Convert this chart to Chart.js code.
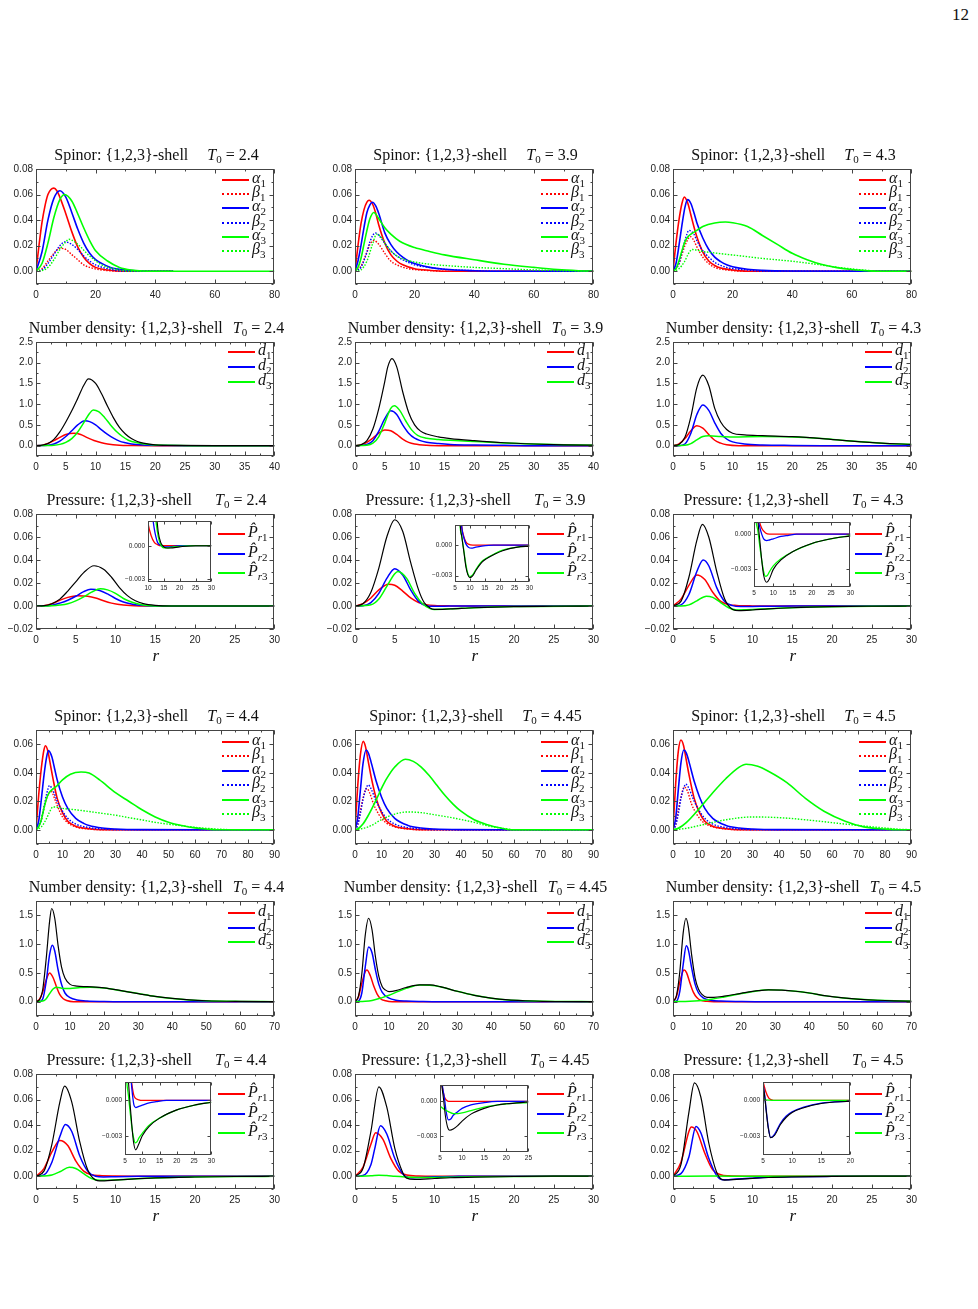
<!DOCTYPE html>
<html>
<head>
<meta charset="utf-8">
<script src="https://cdn.jsdelivr.net/npm/chart.js@4.4.1/dist/chart.umd.min.js"></script>
<style>
  body { margin: 0; background: #fff; width: 978px; height: 1309px; position: relative; overflow: hidden;
         font-family: "Liberation Serif", "DejaVu Serif", serif; color: #111; }
  .title { position: absolute; font-size: 16px; line-height: 16px; text-align: center; white-space: nowrap; }
  .title sub { font-size: 11px; line-height: 0; vertical-align: -3px; }
  .lab sub { font-size: 11px; line-height: 0; vertical-align: -4px; }
  .eq { margin: 0 4px; }
  .lab { position: absolute; font-size: 16px; line-height: 16px; white-space: nowrap; }
  .smp { position: absolute; height: 0; width: 27px; }
  .xlab { position: absolute; font-size: 17px; font-style: italic; line-height: 16px; }
</style>
</head>
<body>
<div style="position:absolute;left:952px;top:5px;font-size:17px;">12</div>
<script>
// ---------- tick labels ----------
const xTicks80 = [0, 20, 40, 60, 80];
const xTicks90 = [0, 10, 20, 30, 40, 50, 60, 70, 80, 90];
const xTicks40 = [0, 5, 10, 15, 20, 25, 30, 35, 40];
const xTicks70 = [0, 10, 20, 30, 40, 50, 60, 70];
const xTicks30 = [0, 5, 10, 15, 20, 25, 30];
const yTicksSpinA = [0, 0.02, 0.04, 0.06, 0.08];
const yTicksSpinB = [0, 0.02, 0.04, 0.06];
const yTicksDenA = [0, 0.5, 1, 1.5, 2, 2.5];
const yTicksDenB = [0, 0.5, 1, 1.5];
const yTicksPrA = [-0.02, 0, 0.02, 0.04, 0.06, 0.08];
const yTicksPrB = [0, 0.02, 0.04, 0.06, 0.08];
const insetYTicks = [-0.003, 0];
const temps = ['2.4', '3.9', '4.3', '4.4', '4.45', '4.5'];

// ---------- spinor, T0 = 2.4 ----------
const sp1_a1 = [[0,0],[1,0.02],[2,0.038],[3,0.051],[4,0.06],[5,0.064],[6,0.065],[7,0.063],[8,0.058],[10,0.045],[12,0.031],[14,0.019],[16,0.011],[18,0.006],[20,0.003],[24,0.001],[30,0],[46,0]];
const sp1_b1 = [[0,0],[2,0.002],[4,0.008],[6,0.014],[8,0.018],[10,0.017],[12,0.013],[14,0.009],[16,0.005],[18,0.003],[22,0.001],[28,0],[46,0]];
const sp1_a2 = [[0,0],[2,0.015],[4,0.04],[6,0.057],[8,0.063],[10,0.058],[12,0.046],[14,0.033],[16,0.022],[18,0.014],[20,0.009],[25,0.003],[30,0.001],[40,0],[46,0]];
const sp1_b2 = [[0,0],[2,0.001],[4,0.006],[6,0.013],[8,0.02],[9.7,0.023],[12,0.021],[14,0.017],[16,0.012],[18,0.008],[20,0.005],[24,0.002],[30,0],[46,0]];
const sp1_a3 = [[0,0],[2,0.006],[4,0.022],[6,0.042],[8,0.056],[9.6,0.06],[12,0.055],[14,0.045],[16,0.034],[18,0.024],[20,0.016],[24,0.008],[28,0.003],[32,0.001],[40,0],[80,0]];
const sp1_b3 = [[0,0],[2,0.0005],[4,0.003],[6,0.009],[8,0.017],[10,0.023],[11,0.025],[13,0.023],[15,0.019],[17,0.014],[19,0.01],[22,0.005],[26,0.002],[32,0],[46,0]];
// ---------- spinor, T0 = 3.9 ----------
const sp2_a1 = [[0,0],[1,0.02],[2,0.037],[3,0.048],[4,0.054],[4.7,0.0555],[6,0.052],[7,0.045],[8,0.036],[10,0.022],[12,0.013],[14,0.008],[16,0.005],[20,0.002],[25,0.0007],[30,0],[80,0]];
const sp2_b1 = [[0,0],[2,0.004],[4,0.015],[5,0.021],[6.4,0.024],[8,0.021],[10,0.014],[12,0.008],[14,0.005],[18,0.002],[25,0.0005],[30,0],[80,0]];
const sp2_a2 = [[0,0],[1,0.008],[2,0.02],[3,0.034],[4,0.046],[5,0.052],[5.8,0.054],[7,0.051],[8,0.045],[10,0.03],[12,0.021],[14,0.015],[16,0.011],[18,0.008],[20,0.006],[25,0.003],[30,0.0015],[40,0.0004],[50,0],[80,0]];
const sp2_b2 = [[0,0],[2,0.003],[4,0.015],[5,0.023],[6.8,0.03],[8,0.028],[10,0.022],[12,0.016],[14,0.012],[16,0.009],[20,0.005],[25,0.003],[30,0.0015],[40,0.0005],[50,0],[80,0]];
const sp2_a3 = [[0,0],[1,0.003],[2,0.01],[3,0.021],[4,0.032],[5,0.041],[6.3,0.046],[8,0.041],[10,0.034],[12,0.029],[15,0.0235],[20,0.0185],[25,0.0155],[30,0.0128],[40,0.009],[50,0.0055],[60,0.003],[68,0.0013],[75,0.0004],[80,0]];
const sp2_b3 = [[0,0],[2,0.001],[4,0.008],[6,0.022],[7.2,0.029],[9,0.026],[10,0.022],[12,0.016],[14,0.012],[16,0.0096],[20,0.0072],[25,0.0055],[30,0.0045],[40,0.003],[50,0.002],[60,0.001],[70,0.0004],[80,0]];
// ---------- spinor, T0 = 4.3 ----------
const sp3_a1 = [[0,0],[1,0.022],[2,0.04],[3,0.053],[3.8,0.058],[5,0.053],[6,0.044],[7,0.035],[8,0.027],[10,0.015],[12,0.008],[14,0.0045],[16,0.0025],[20,0.001],[25,0],[80,0]];
const sp3_b1 = [[0,0],[2,0.006],[3,0.013],[4,0.02],[5,0.025],[5.9,0.027],[7,0.024],[8,0.019],[10,0.011],[12,0.006],[14,0.003],[18,0.001],[25,0],[80,0]];
const sp3_a2 = [[0,0],[1,0.006],[2,0.02],[3,0.036],[4,0.05],[4.9,0.056],[6,0.053],[7,0.046],[8,0.038],[10,0.026],[12,0.017],[14,0.011],[16,0.0075],[18,0.005],[20,0.0035],[25,0.0015],[30,0.0007],[40,0.0002],[67,0],[80,0]];
const sp3_b2 = [[0,0],[2,0.006],[3,0.015],[4,0.024],[5.4,0.032],[7,0.029],[8,0.024],[10,0.016],[12,0.011],[14,0.007],[18,0.003],[25,0.001],[30,0],[80,0]];
const sp3_a3 = [[0,0],[1,0.002],[2,0.008],[3,0.016],[4,0.023],[5,0.027],[6,0.029],[8,0.032],[10,0.035],[14,0.0378],[17.6,0.0385],[20,0.038],[25,0.035],[30,0.028],[35,0.021],[40,0.014],[45,0.009],[50,0.0052],[55,0.0028],[60,0.0013],[65,0.0004],[68,0],[80,0]];
const sp3_b3 = [[0,0],[2,0.002],[4,0.008],[5,0.013],[6.5,0.017],[8,0.0165],[10,0.0155],[15,0.014],[22,0.0122],[30,0.01],[40,0.0078],[50,0.0048],[55,0.0031],[60,0.0018],[66,0.0005],[70,0],[80,0]];
// ---------- spinor, T0 = 4.4 ----------
const sp4_a1 = [[0,0],[1,0.024],[2,0.043],[3,0.056],[3.6,0.059],[4.5,0.055],[5.5,0.045],[6.5,0.035],[8,0.022],[10,0.012],[12,0.006],[15,0.0025],[20,0.0007],[25,0],[90,0]];
const sp4_b1 = [[0,0],[2,0.007],[3,0.015],[4,0.022],[5,0.026],[5.7,0.027],[7,0.022],[8,0.017],[10,0.009],[12,0.005],[15,0.002],[20,0.0005],[25,0],[90,0]];
const sp4_a2 = [[0,0],[1,0.006],[2,0.021],[3,0.038],[4,0.051],[4.7,0.0555],[6,0.051],[7,0.043],[8,0.035],[10,0.023],[12,0.015],[15,0.008],[18,0.0045],[20,0.003],[25,0.0012],[30,0.0005],[40,0.0001],[68,0],[90,0]];
const sp4_b2 = [[0,0],[2,0.007],[3,0.016],[4,0.025],[5.1,0.031],[6,0.029],[7,0.025],[8,0.02],[10,0.013],[12,0.008],[15,0.004],[20,0.0015],[25,0.0005],[30,0],[90,0]];
const sp4_a3 = [[0,0],[1,0.002],[2,0.007],[3,0.015],[4,0.022],[5,0.026],[6,0.028],[8,0.031],[10,0.035],[13,0.039],[17,0.0405],[20,0.0398],[24,0.035],[30,0.026],[35,0.02],[40,0.014],[45,0.009],[50,0.0053],[55,0.003],[60,0.0013],[65,0.0004],[68,0],[90,0]];
const sp4_b3 = [[0,0],[2,0.002],[4,0.008],[5,0.012],[6.4,0.016],[8,0.0158],[10,0.015],[15,0.014],[20,0.0128],[25,0.0115],[30,0.0102],[35,0.0085],[40,0.0069],[45,0.0052],[50,0.0039],[55,0.0028],[60,0.0017],[65,0.0009],[70,0.0003],[75,0],[90,0]];
// ---------- spinor, T0 = 4.45 ----------
const sp5_a1 = [[0,0],[1,0.03],[2,0.052],[3.1,0.062],[4,0.058],[5,0.048],[6,0.038],[8,0.022],[10,0.012],[12,0.006],[15,0.0025],[20,0.0007],[25,0],[90,0]];
const sp5_b1 = [[0,0],[1,0.004],[2,0.013],[3,0.022],[4.4,0.029],[5.5,0.026],[7,0.018],[8,0.014],[10,0.008],[12,0.0045],[15,0.002],[20,0.0005],[25,0],[90,0]];
const sp5_a2 = [[0,0],[1,0.008],[2,0.027],[3,0.046],[4.2,0.056],[5,0.054],[6,0.048],[8,0.034],[10,0.023],[12,0.015],[15,0.008],[20,0.003],[25,0.0012],[30,0.0005],[40,0.0001],[58,0],[90,0]];
const sp5_b2 = [[0,0],[1,0.003],[2,0.011],[3,0.021],[4,0.028],[5,0.0315],[6,0.029],[8,0.02],[10,0.013],[12,0.008],[15,0.004],[20,0.0015],[25,0.0005],[30,0],[90,0]];
const sp5_a3 = [[0,0],[1,0.0005],[3,0.004],[5,0.01],[8,0.021],[10,0.029],[12,0.036],[15,0.044],[19,0.0495],[22,0.048],[25,0.044],[28,0.038],[31,0.031],[34,0.024],[37,0.018],[40,0.013],[45,0.007],[50,0.0035],[55,0.0012],[59,0],[90,0]];
const sp5_b3 = [[0,0],[5,0.002],[10,0.007],[15,0.011],[20,0.0125],[25,0.012],[30,0.0105],[35,0.009],[40,0.0072],[45,0.0052],[50,0.0028],[55,0.0012],[59,0.0002],[60,0],[90,0]];
// ---------- spinor, T0 = 4.5 ----------
const sp6_a1 = [[0,0],[1,0.032],[2,0.055],[3,0.063],[4,0.059],[5,0.049],[6,0.039],[8,0.022],[10,0.012],[12,0.006],[15,0.0025],[20,0.0007],[25,0],[90,0]];
const sp6_b1 = [[0,0],[1,0.004],[2,0.014],[3,0.023],[4.3,0.03],[5.5,0.027],[7,0.018],[8,0.014],[10,0.008],[12,0.0045],[15,0.002],[20,0.0005],[25,0],[90,0]];
const sp6_a2 = [[0,0],[1,0.008],[2,0.028],[3,0.047],[4.1,0.056],[5,0.054],[6,0.048],[8,0.034],[10,0.023],[12,0.015],[15,0.008],[20,0.003],[25,0.0012],[30,0.0005],[40,0.0001],[70,0],[90,0]];
const sp6_b2 = [[0,0],[1,0.003],[2,0.011],[3,0.022],[4,0.029],[4.8,0.032],[6,0.029],[8,0.02],[10,0.013],[12,0.008],[15,0.004],[20,0.0015],[25,0.0005],[30,0],[90,0]];
const sp6_a3 = [[0,0],[2,0.001],[5,0.005],[10,0.015],[15,0.026],[20,0.036],[25,0.044],[27.6,0.046],[32,0.0445],[36,0.041],[43,0.033],[50,0.022],[57,0.013],[65,0.006],[72,0.002],[80,0.0005],[85,0],[90,0]];
const sp6_b3 = [[0,0],[5,0.001],[10,0.003],[20,0.007],[30,0.009],[40,0.0085],[50,0.007],[60,0.005],[70,0.003],[80,0.0012],[85,0.0004],[90,0]];

// ---------- number density ----------
const dn1_t  = [[0,0],[1,0.01],[2,0.05],[3,0.15],[4,0.33],[5,0.57],[6,0.84],[7,1.14],[8,1.45],[8.8,1.61],[10,1.5],[11,1.25],[12,0.95],[13,0.67],[14,0.44],[15,0.28],[16,0.17],[17,0.1],[18,0.06],[20,0.02],[24,0.005],[30,0],[40,0]];
const dn1_d1 = [[0,0],[1,0.01],[2,0.05],[3,0.12],[4,0.2],[5,0.27],[6.4,0.3],[7.5,0.27],[8.5,0.2],[10,0.11],[11,0.07],[12,0.04],[14,0.01],[16,0.003],[20,0],[40,0]];
const dn1_d2 = [[0,0],[2,0.01],[3,0.04],[4,0.11],[5,0.22],[6,0.36],[7,0.5],[8.2,0.6],[9,0.58],[10,0.5],[11,0.38],[12,0.27],[13,0.18],[14,0.11],[15,0.07],[16,0.04],[18,0.015],[22,0.003],[25,0],[40,0]];
const dn1_d3 = [[0,0],[3,0.01],[4,0.03],[5,0.08],[6,0.17],[7,0.33],[8,0.55],[9,0.78],[9.6,0.86],[10.5,0.82],[11.5,0.68],[12.5,0.5],[13.5,0.34],[14.5,0.22],[15.5,0.13],[17,0.07],[19,0.03],[22,0.01],[26,0],[40,0]];
const dn2_t  = [[0,0],[1,0.02],[2,0.12],[3,0.4],[4,0.9],[5,1.55],[5.5,1.9],[6.2,2.1],[7,1.9],[8,1.3],[9,0.8],[10,0.5],[11,0.35],[12,0.28],[14,0.21],[16,0.17],[20,0.12],[25,0.07],[30,0.04],[35,0.02],[40,0.01]];
const dn2_d1 = [[0,0],[1,0.02],[2,0.08],[3,0.18],[4,0.3],[5,0.38],[6,0.36],[7,0.27],[8,0.16],[9,0.08],[10,0.04],[12,0.01],[15,0],[40,0]];
const dn2_d2 = [[0,0],[2,0.03],[3,0.12],[4,0.35],[5,0.65],[6,0.84],[7,0.75],[8,0.5],[9,0.3],[10,0.18],[12,0.08],[14,0.05],[16,0.03],[20,0.015],[25,0.007],[30,0],[40,0]];
const dn2_d3 = [[0,0],[2,0.01],[3,0.06],[4,0.22],[5,0.55],[6,0.9],[6.6,0.96],[7.5,0.85],[8.5,0.6],[9.5,0.38],[10.5,0.25],[12,0.18],[14,0.15],[16,0.13],[20,0.1],[25,0.065],[30,0.04],[35,0.02],[40,0.01]];
const dn3_t  = [[0,0],[1,0.03],[2,0.2],[3,0.7],[4,1.4],[5,1.7],[6,1.45],[7,0.9],[8,0.57],[9,0.39],[10,0.3],[12,0.26],[15,0.24],[20,0.215],[25,0.17],[30,0.11],[35,0.06],[40,0.03]];
const dn3_d1 = [[0,0],[1,0.04],[2,0.17],[3,0.36],[4,0.48],[5,0.42],[6,0.27],[7,0.13],[8,0.06],[9,0.02],[11,0],[40,0]];
const dn3_d2 = [[0,0],[1,0],[2,0.04],[3,0.3],[4,0.75],[5,0.98],[6,0.85],[7,0.55],[8,0.3],[9,0.16],[10,0.09],[12,0.04],[15,0.015],[20,0.005],[25,0],[40,0]];
const dn3_d3 = [[0,0],[2,0.01],[3,0.05],[4,0.14],[5,0.22],[6,0.24],[8,0.22],[10,0.21],[15,0.22],[20,0.21],[25,0.17],[30,0.11],[35,0.06],[40,0.03]];
const dn4_t  = [[0,0],[1,0.03],[2,0.22],[3,0.75],[4,1.4],[4.6,1.62],[5.5,1.45],[6.5,0.97],[7.5,0.6],[8.5,0.41],[10,0.3],[12,0.27],[15,0.26],[20,0.24],[25,0.19],[30,0.14],[35,0.09],[40,0.055],[45,0.03],[50,0.015],[60,0.004],[70,0]];
const dn4_d1 = [[0,0],[1,0.04],[2,0.17],[3,0.38],[4,0.5],[5,0.42],[6,0.26],[7,0.12],[8,0.05],[9,0.02],[11,0],[70,0]];
const dn4_d2 = [[0,0],[1,0],[2,0.05],[3,0.35],[4,0.82],[4.8,0.98],[5.5,0.88],[6.5,0.55],[7.5,0.3],[8.5,0.15],[10,0.07],[12,0.03],[15,0.01],[20,0.003],[25,0],[70,0]];
const dn4_d3 = [[0,0],[2,0.01],[3,0.05],[4,0.14],[5,0.22],[6,0.25],[8,0.23],[10,0.23],[13,0.245],[16,0.25],[20,0.235],[25,0.19],[30,0.14],[35,0.09],[40,0.055],[45,0.03],[50,0.015],[60,0.004],[70,0]];
const dn5_t  = [[0,0],[1,0.09],[2,0.48],[3,1.15],[4,1.45],[5,1.25],[6,0.78],[7,0.44],[8,0.26],[9,0.2],[10,0.175],[12,0.19],[15,0.245],[19,0.29],[22,0.29],[25,0.26],[30,0.18],[35,0.11],[40,0.06],[45,0.03],[50,0.015],[55,0.005],[60,0.002],[70,0]];
const dn5_d1 = [[0,0],[1,0.08],[2,0.32],[3,0.52],[3.5,0.55],[4.5,0.45],[5.5,0.27],[6.5,0.13],[7.5,0.05],[9,0.015],[11,0],[70,0]];
const dn5_d2 = [[0,0],[1,0.01],[2,0.15],[3,0.6],[4,0.95],[5,0.85],[6,0.55],[7,0.3],[8,0.16],[10,0.06],[12,0.025],[15,0.01],[20,0.003],[25,0],[70,0]];
const dn5_d3 = [[0,0],[3,0.005],[5,0.02],[8,0.07],[10,0.11],[12,0.16],[15,0.23],[19,0.29],[22,0.285],[25,0.26],[30,0.18],[35,0.11],[40,0.06],[45,0.03],[50,0.015],[55,0.005],[60,0.002],[70,0]];
const dn6_t  = [[0,0],[1,0.1],[2,0.52],[3,1.2],[3.8,1.45],[4.5,1.3],[5.5,0.8],[6.5,0.41],[7.5,0.215],[8.5,0.125],[10,0.075],[12,0.075],[15,0.095],[20,0.145],[25,0.19],[28,0.205],[32,0.2],[36,0.18],[40,0.15],[45,0.1],[50,0.065],[55,0.04],[60,0.024],[65,0.014],[70,0.008]];
const dn6_d1 = [[0,0],[1,0.09],[2,0.34],[3,0.54],[3.3,0.55],[4,0.5],[5,0.32],[6,0.16],[7,0.07],[8,0.025],[10,0.005],[12,0],[70,0]];
const dn6_d2 = [[0,0],[1,0.01],[2,0.18],[3,0.65],[3.9,0.97],[4.5,0.9],[5.5,0.58],[6.5,0.3],[7.5,0.15],[9,0.06],[11,0.025],[14,0.01],[20,0.003],[25,0],[70,0]];
const dn6_d3 = [[0,0],[5,0.005],[10,0.03],[15,0.08],[20,0.14],[25,0.19],[28,0.205],[32,0.2],[36,0.18],[40,0.15],[45,0.1],[50,0.065],[55,0.04],[60,0.024],[65,0.014],[70,0.008]];

// ---------- pressure ----------
const pr1_t  = [[0,0],[1,0.0003],[2,0.002],[3,0.006],[4,0.013],[5,0.021],[6,0.029],[7.3,0.035],[8.5,0.032],[9.5,0.025],[10.5,0.016],[11.5,0.009],[12.5,0.0045],[13.5,0.002],[15,0.0005],[17,0],[30,0]];
const pr1_p1 = [[0,0],[1,0.0003],[2,0.002],[3,0.005],[4,0.0075],[5.2,0.009],[6.5,0.0085],[7.5,0.007],[8.5,0.0045],[9.5,0.0025],[11,0.0008],[13,0.0001],[15,0],[30,0]];
const pr1_p2 = [[0,0],[2,0.0007],[3,0.0025],[4,0.005],[5,0.0085],[6,0.0125],[6.9,0.0145],[8,0.0135],[9,0.0105],[10,0.0065],[11,0.0035],[12,0.0017],[13,0.0007],[15,0],[30,0]];
const pr1_p3 = [[0,0],[2,0.0002],[3,0.0008],[4,0.002],[5,0.0045],[6,0.008],[7,0.012],[8.1,0.015],[9,0.014],[10,0.011],[11,0.0065],[12,0.0035],[13,0.0015],[14,0.0005],[16,0],[30,0]];
const pr2_t  = [[0,0],[1,0.002],[2,0.012],[3,0.033],[4,0.06],[5,0.075],[6,0.065],[7,0.038],[8,0.014],[8.7,0.003],[9.5,-0.002],[10,-0.003],[12,-0.0025],[15,-0.0015],[20,-0.0005],[25,-0.0002],[30,0]];
const pr2_p1 = [[0,0],[1,0.002],[2,0.007],[3,0.014],[4.2,0.019],[5,0.018],[6,0.013],[7,0.007],[8,0.003],[9,0.0012],[10,0.0005],[12,0.0001],[15,0],[30,0]];
const pr2_p2 = [[0,0],[1,0.0003],[2,0.003],[3,0.011],[4,0.024],[5,0.0325],[6,0.027],[7,0.014],[8,0.004],[9,0.0002],[10,-0.0003],[12,-0.0001],[15,0],[30,0]];
const pr2_p3 = [[0,0],[2,0.001],[3,0.006],[4,0.017],[5,0.028],[5.4,0.03],[6.5,0.024],[7.5,0.011],[8.5,0.002],[9.5,-0.0025],[10,-0.003],[12,-0.0025],[15,-0.0015],[20,-0.0005],[30,0]];
const pr3_t  = [[0,0],[1,0.004],[2,0.025],[3,0.057],[3.7,0.071],[4.5,0.06],[5.5,0.03],[6.5,0.006],[7.5,-0.003],[8.3,-0.004],[10,-0.0035],[12,-0.0025],[15,-0.0015],[20,-0.0006],[25,-0.0002],[30,0]];
const pr3_p1 = [[0,0],[1,0.006],[2,0.018],[3,0.027],[4,0.023],[5,0.012],[6,0.004],[7,0.0012],[8,0.0005],[10,0.0001],[12,0],[30,0]];
const pr3_p2 = [[0,0],[1,0.001],[2,0.01],[3,0.03],[3.8,0.04],[4.5,0.035],[5.5,0.016],[6.5,0.004],[7.5,0.0003],[8.5,-0.0005],[10,-0.0004],[12,-0.0002],[15,0],[30,0]];
const pr3_p3 = [[0,0],[1,0],[2,0.001],[3,0.0045],[4.2,0.0085],[5,0.0075],[6,0.003],[7,-0.0015],[8,-0.0034],[9,-0.0033],[11,-0.0027],[14,-0.0017],[18,-0.0009],[22,-0.0004],[26,-0.0002],[30,-0.0001]];
const pr4_t  = [[0,0],[1,0.004],[2,0.025],[3,0.058],[3.6,0.0705],[4.5,0.058],[5.5,0.027],[6.5,0.005],[7.5,-0.003],[8,-0.0036],[10,-0.003],[12,-0.0022],[15,-0.0013],[20,-0.0006],[25,-0.0002],[30,0]];
const pr4_p1 = [[0,0],[1,0.006],[2,0.019],[3,0.028],[4,0.024],[5,0.012],[6,0.004],[7,0.0012],[8,0.0005],[10,0.0001],[12,0],[30,0]];
const pr4_p2 = [[0,0],[1,0.001],[2,0.011],[3,0.031],[3.7,0.0405],[4.5,0.035],[5.5,0.016],[6.5,0.004],[7.5,0],[8.5,-0.0006],[10,-0.0004],[13,-0.0001],[15,0],[30,0]];
const pr4_p3 = [[0,0],[2,0.001],[3,0.0035],[4.2,0.007],[5,0.006],[6,0.002],[7,-0.0018],[8,-0.0032],[9,-0.0031],[11,-0.0025],[14,-0.0016],[18,-0.0008],[22,-0.0004],[26,-0.0002],[30,-0.0001]];
const pr5_t  = [[0,0],[1,0.006],[2,0.035],[3,0.07],[4,0.054],[5,0.022],[6,0.003],[6.5,-0.0015],[7.5,-0.0025],[10,-0.0018],[12,-0.0012],[15,-0.0007],[20,-0.0002],[25,0],[30,0]];
const pr5_p1 = [[0,0],[1,0.007],[2,0.025],[2.6,0.034],[3.5,0.029],[4.5,0.014],[5.5,0.004],[6.5,0.001],[8,0.0002],[10,0],[30,0]];
const pr5_p2 = [[0,0],[1,0.0005],[2,0.009],[2.5,0.022],[3.2,0.0395],[4,0.033],[5,0.014],[6,0.002],[7,-0.0012],[8,-0.001],[10,-0.0004],[13,-0.0001],[15,0],[30,0]];
const pr5_p3 = [[0,0],[2,0.0003],[3,0.0008],[4,0.0005],[5,0],[6,-0.0004],[7,-0.0008],[9,-0.001],[12,-0.0008],[15,-0.0005],[20,-0.0002],[25,0],[30,0]];
const pr6_t  = [[0,0],[1,0.009],[2,0.05],[2.7,0.073],[3.5,0.062],[4.5,0.026],[5.5,0.003],[6,-0.002],[6.5,-0.003],[8,-0.0025],[10,-0.0017],[12,-0.001],[15,-0.0005],[20,-0.0001],[25,0],[30,0]];
const pr6_p1 = [[0,0],[1,0.011],[2,0.035],[2.3,0.0385],[3,0.035],[4,0.018],[5,0.005],[6,0.0012],[7,0.0003],[9,0],[30,0]];
const pr6_p2 = [[0,0],[1,0.002],[2,0.015],[2.9,0.039],[3.5,0.034],[4.5,0.014],[5.5,0.0005],[6.3,-0.0028],[7,-0.0027],[8,-0.0022],[10,-0.0015],[12,-0.0009],[15,-0.0004],[20,-0.0001],[25,0],[30,0]];
const pr6_p3 = [[0,0],[5,0.0001],[10,0],[30,0]];

// ---------- pressure insets ----------
const in1_t  = [[11,0.012],[12,0.006],[12.8,0.0025],[13.2,0.0013],[14,0.0003],[15,-0.0001],[16,-0.0002],[17,-0.0002],[20,-0.0001],[25,0],[30,0]];
const in1_p1 = [[9,0.004],[10,0.002],[11,0.0009],[12,0.0003],[13,0.0001],[14,0],[30,0]];
const in1_p2 = [[10,0.008],[11,0.004],[11.5,0.0025],[12,0.0015],[12.5,0.0008],[13,0.0003],[14,0.00003],[15,-0.0001],[16,-0.0001],[20,0],[30,0]];
const in1_p3 = [[11,0.008],[12,0.004],[12.4,0.0025],[13,0.0012],[13.5,0.0005],[14,0.0001],[15,-0.0002],[16,-0.0002],[18,-0.0001],[20,-0.00005],[25,0],[30,0]];
const in2_t  = [[6,0.008],[6.7,0.0022],[7.3,0.0008],[8,-0.0007],[8.7,-0.0022],[9.3,-0.0029],[10,-0.0032],[11,-0.003],[12,-0.0025],[14,-0.0017],[15.5,-0.00135],[18,-0.00095],[21,-0.00055],[26,-0.0002],[30,-0.0001]];
const in2_p1 = [[6.5,0.005],[7.2,0.002],[8,0.0008],[8.7,0.0003],[9.5,0.0001],[11,0],[30,0]];
const in2_p2 = [[6.5,0.006],[7.2,0.002],[8,0.0007],[8.7,0.0001],[9.5,-0.0002],[10.5,-0.0003],[12,-0.0002],[14,-0.0001],[18,0],[30,0]];
const in2_p3 = [[6,0.008],[6.7,0.002],[7.3,0.0008],[8,-0.0006],[8.7,-0.002],[9.3,-0.0028],[10,-0.0031],[11,-0.0029],[12,-0.0024],[14,-0.0016],[15.5,-0.0013],[18,-0.0009],[21,-0.0005],[26,-0.0002],[30,-0.0001]];
const in3_t  = [[5.5,0.004],[6,0.0012],[6.5,-0.0005],[7,-0.0022],[7.5,-0.0035],[8.3,-0.0041],[9,-0.0038],[10,-0.003],[12,-0.0022],[15,-0.0015],[20,-0.0008],[25,-0.0004],[30,-0.00015]];
const in3_p1 = [[5.5,0.004],[6,0.002],[6.4,0.0011],[7,0.0005],[8,0.0001],[9,0],[30,0]];
const in3_p2 = [[5.5,0.004],[6,0.0015],[6.5,0.0006],[7,0],[7.5,-0.0004],[8.3,-0.00055],[9,-0.0005],[10,-0.0004],[12,-0.0002],[14,-0.0001],[16,0],[30,0]];
const in3_p3 = [[5,0.004],[5.5,0.0012],[6,0.0003],[6.5,-0.001],[7,-0.0022],[7.5,-0.0032],[8,-0.0036],[8.5,-0.0035],[9,-0.0032],[10,-0.0027],[12,-0.0021],[15,-0.0015],[20,-0.0008],[25,-0.0004],[30,-0.00014]];
const in4_t  = [[5.5,0.004],[6,0.0016],[6.5,-0.0004],[7,-0.0022],[7.5,-0.0036],[8.1,-0.0042],[9,-0.0037],[10,-0.003],[12,-0.0022],[15,-0.0015],[20,-0.0008],[25,-0.0004],[30,-0.00015]];
const in4_p1 = [[6,0.005],[6.5,0.0028],[6.9,0.0016],[7.5,0.0005],[8,0.0002],[9,0.00005],[10,0],[30,0]];
const in4_p2 = [[6,0.005],[6.4,0.003],[6.8,0.0016],[7.2,0.0004],[7.6,-0.0004],[8.1,-0.0006],[9,-0.0005],[10,-0.0004],[12,-0.0002],[14,-0.0001],[17,0],[30,0]];
const in4_p3 = [[5,0.004],[5.5,0.0016],[6,0.0004],[6.5,-0.001],[7,-0.0023],[7.5,-0.0032],[8,-0.0036],[8.5,-0.0035],[9,-0.0032],[10,-0.0028],[12,-0.0021],[15,-0.0015],[20,-0.0008],[25,-0.0004],[30,-0.00014]];
const in5_t  = [[5,0.004],[5.4,0.0015],[5.8,0.0002],[6.2,-0.0012],[6.7,-0.0022],[7.2,-0.0025],[8,-0.0024],[9,-0.0021],[10,-0.0017],[12,-0.0011],[15,-0.0006],[18,-0.0003],[20,-0.0002],[25,-0.00005]];
const in5_p1 = [[5,0.0025],[5.4,0.0015],[6,0.0004],[6.5,0.0001],[7,0],[25,0]];
const in5_p2 = [[5,0.004],[5.5,0.0015],[6,0.0003],[6.4,-0.0009],[6.9,-0.0016],[7.5,-0.0015],[8,-0.0012],[9,-0.0009],[10,-0.0006],[12,-0.0003],[15,-0.0001],[18,0],[25,0]];
const in5_p3 = [[5,-0.0004],[6,-0.0007],[7,-0.0009],[8,-0.00105],[9,-0.00105],[10,-0.001],[12,-0.0008],[15,-0.0005],[18,-0.0003],[20,-0.0002],[25,-0.0001]];
const in6_t  = [[4.8,0.003],[5,0.0015],[5.3,0.0003],[5.6,-0.0011],[5.9,-0.0023],[6.3,-0.0031],[7,-0.0029],[8,-0.002],[9,-0.0014],[10,-0.001],[12,-0.0006],[15,-0.00025],[20,-0.00006]];
const in6_p1 = [[5,0.0016],[5.5,0.0007],[6,0.0002],[6.5,0.00005],[7,0],[20,0]];
const in6_p2 = [[4.8,0.003],[5,0.0015],[5.3,0.0004],[5.6,-0.001],[5.9,-0.0022],[6.3,-0.0031],[7,-0.0028],[8,-0.0019],[9,-0.0013],[10,-0.00095],[12,-0.00055],[15,-0.00022],[20,-0.00005]];
const in6_p3 = [[5,0.00005],[8,0],[20,0]];

const spinorCurves = [
  [sp1_a1, sp1_b1, sp1_a2, sp1_b2, sp1_a3, sp1_b3],
  [sp2_a1, sp2_b1, sp2_a2, sp2_b2, sp2_a3, sp2_b3],
  [sp3_a1, sp3_b1, sp3_a2, sp3_b2, sp3_a3, sp3_b3],
  [sp4_a1, sp4_b1, sp4_a2, sp4_b2, sp4_a3, sp4_b3],
  [sp5_a1, sp5_b1, sp5_a2, sp5_b2, sp5_a3, sp5_b3],
  [sp6_a1, sp6_b1, sp6_a2, sp6_b2, sp6_a3, sp6_b3]
];
const densityCurves = [
  [dn1_d1, dn1_d2, dn1_d3, dn1_t], [dn2_d1, dn2_d2, dn2_d3, dn2_t], [dn3_d1, dn3_d2, dn3_d3, dn3_t],
  [dn4_d1, dn4_d2, dn4_d3, dn4_t], [dn5_d1, dn5_d2, dn5_d3, dn5_t], [dn6_d1, dn6_d2, dn6_d3, dn6_t]
];
const pressureCurves = [
  [pr1_p1, pr1_p2, pr1_p3, pr1_t], [pr2_p1, pr2_p2, pr2_p3, pr2_t], [pr3_p1, pr3_p2, pr3_p3, pr3_t],
  [pr4_p1, pr4_p2, pr4_p3, pr4_t], [pr5_p1, pr5_p2, pr5_p3, pr5_t], [pr6_p1, pr6_p2, pr6_p3, pr6_t]
];
const insetCurves = [
  [in1_p1, in1_p2, in1_p3, in1_t], [in2_p1, in2_p2, in2_p3, in2_t], [in3_p1, in3_p2, in3_p3, in3_t],
  [in4_p1, in4_p2, in4_p3, in4_t], [in5_p1, in5_p2, in5_p3, in5_t], [in6_p1, in6_p2, in6_p3, in6_t]
];

// ---------- drawing ----------
const RED = '#ff0000', BLUE = '#0000ff', GREEN = '#00ff00', BLACK = '#000000';
const COLORS3 = [RED, BLUE, GREEN];
const colLeft = [36, 355, 673];
const colW = 241;

// frame + inward ticks on all four sides
const framePlugin = {
  id: 'frame',
  afterDraw(chart, args, o) {
    const { ctx, chartArea: a, scales: { x, y } } = chart;
    const L = Math.round(a.left) + 0.5, R = Math.round(a.right) - 0.5;
    const T = Math.round(a.top) + 0.5, B = Math.round(a.bottom) - 0.5;
    ctx.save();
    ctx.strokeStyle = '#444';
    ctx.lineWidth = 1;
    ctx.beginPath();
    const tx = (v, len) => { const p = Math.round(x.getPixelForValue(v)) + 0.5; ctx.moveTo(p, B); ctx.lineTo(p, B - len); ctx.moveTo(p, T); ctx.lineTo(p, T + len); };
    const ty = (v, len) => { const p = Math.round(y.getPixelForValue(v)) + 0.5; ctx.moveTo(L, p); ctx.lineTo(L + len, p); ctx.moveTo(R, p); ctx.lineTo(R - len, p); };
    x.ticks.forEach(t => tx(t.value, o.major));
    y.ticks.forEach(t => ty(t.value, o.major));
    const minor = (sc, step, fn) => {
      if (!step) return;
      const i0 = Math.ceil(sc.min / step - 1e-6), i1 = Math.floor(sc.max / step + 1e-6);
      for (let i = i0; i <= i1; i++) fn(i * step, o.minor);
    };
    minor(x, o.xMinor, tx);
    minor(y, o.yMinor, ty);
    ctx.stroke();
    ctx.strokeRect(L, T, R - L, B - T);
    ctx.restore();
  }
};

const fmtY = d => v => (v < 0 ? '\u2212' : '') + Math.abs(v).toFixed(d);

function makeChart(box, pad, curves, styles, ax) {
  const cv = document.createElement('canvas');
  const W = box.w + pad.l + pad.r, H = box.h + pad.t + pad.b;
  cv.width = W; cv.height = H;
  cv.style.cssText = `position:absolute;left:${box.left - pad.l}px;top:${box.top - pad.t}px;width:${W}px;height:${H}px;`;
  document.body.appendChild(cv);
  const datasets = curves.map((pts, i) => ({
    data: pts.map(p => ({ x: p[0], y: p[1] })),
    borderColor: styles[i].color,
    borderWidth: styles[i].w,
    borderDash: styles[i].dash || [],
    pointRadius: 0,
    fill: false,
    cubicInterpolationMode: 'monotone'
  }));
  datasets.reverse(); // first series ends up drawn last
  const tickFont = { family: '"Liberation Sans", Arial, sans-serif', size: ax.font };
  new Chart(cv, {
    type: 'line',
    data: { datasets },
    options: {
      responsive: false, animation: false, events: [],
      layout: { padding: { left: 0, top: pad.t, right: pad.r, bottom: 0 } },
      plugins: { legend: { display: false }, tooltip: { enabled: false },
                 frame: { major: ax.major, minor: ax.minorLen, xMinor: ax.xMinor, yMinor: ax.yMinor } },
      scales: {
        x: { type: 'linear', min: ax.xMin, max: ax.xMax,
             afterBuildTicks: s => { s.ticks = ax.xTicks.map(v => ({ value: v })); },
             afterFit: s => { s.height = pad.b; },
             grid: { display: false, drawTicks: false }, border: { display: false },
             ticks: { font: tickFont, color: '#222', padding: ax.xPad, maxRotation: 0, autoSkip: false,
                      callback: v => String(v) } },
        y: { type: 'linear', min: ax.yMin, max: ax.yMax,
             afterBuildTicks: s => { s.ticks = ax.yTicks.map(v => ({ value: v })); },
             afterFit: s => { s.width = pad.l; },
             grid: { display: false, drawTicks: false }, border: { display: false },
             ticks: { font: tickFont, color: '#222', padding: ax.yPad, autoSkip: false, callback: fmtY(ax.dec) } }
      }
    },
    plugins: [framePlugin]
  });
}

function addHTML(html) { document.body.insertAdjacentHTML('beforeend', html); }

function title(left, top, name, gap, T) {
  addHTML(`<div class="title" style="left:${left - 20}px;top:${top - 21}px;width:${colW + 40}px;">${name}<span style="margin-left:${gap}px"><i>T</i><sub>0</sub><span class="eq">=</span>${T}</span></div>`);
}

function legend(right, top, items, x0, dy0, dy) {
  items.forEach((it, i) => {
    const yy = Math.round(top + dy0 + dy * i);
    addHTML(`<div class="smp" style="left:${right + x0}px;top:${yy - 1}px;border-top:2px ${it.dash ? 'dotted' : 'solid'} ${it.color};"></div>`);
    addHTML(`<div class="lab" style="left:${right + x0 + 30}px;top:${yy - 10}px;">${it.html}</div>`);
  });
}

const spinStyles = [
  { color: RED, w: 1.6 }, { color: RED, w: 1.4, dash: [1.5, 1.5] },
  { color: BLUE, w: 1.6 }, { color: BLUE, w: 1.4, dash: [1.5, 1.5] },
  { color: GREEN, w: 1.6 }, { color: GREEN, w: 1.4, dash: [1.5, 1.5] }
];
const fourStyles = [{ color: RED, w: 1.5 }, { color: BLUE, w: 1.5 }, { color: GREEN, w: 1.5 }, { color: BLACK, w: 1.2 }];
const insetStyles = [{ color: RED, w: 1.3 }, { color: BLUE, w: 1.3 }, { color: GREEN, w: 1.3 }, { color: BLACK, w: 1.1 }];

const spinLegend = [];
[1, 2, 3].forEach(k => {
  spinLegend.push({ html: `<i>\u03b1</i><sub>${k}</sub>`, color: COLORS3[k - 1] });
  spinLegend.push({ html: `<i>\u03b2</i><sub>${k}</sub>`, color: COLORS3[k - 1], dash: true });
});
const denLegend = [1, 2, 3].map(k => ({ html: `<i>d</i><sub>${k}</sub>`, color: COLORS3[k - 1] }));
const prLegend = [1, 2, 3].map(k => ({ html: `<i>P\u0302</i><sub><i>r</i>${k}</sub>`, color: COLORS3[k - 1] }));

const mainPad = { l: 36, r: 8, t: 8, b: 20 };
const insetPad = { l: 28, r: 4, t: 4, b: 12 };

const groups = [
  { spin: { top: 168, h: 116, xMax: 80, xTicks: xTicks80, xMinor: 10, yMin: -0.01, yMax: 0.08, yTicks: yTicksSpinA, leg: [12, 14.2] },
    den:  { top: 341, h: 115, xMax: 40, xTicks: xTicks40, xMinor: 2.5, yMin: -0.25, yMax: 2.5, yTicks: yTicksDenA, leg: [11, 15] },
    pr:   { top: 513, h: 116, yMin: -0.02, yMax: 0.08, yTicks: yTicksPrA } },
  { spin: { top: 729, h: 115, xMax: 90, xTicks: xTicks90, xMinor: 5, yMin: -0.01, yMax: 0.07, yTicks: yTicksSpinB, leg: [13, 14.4] },
    den:  { top: 900, h: 116, xMax: 70, xTicks: xTicks70, xMinor: 5, yMin: -0.25, yMax: 1.75, yTicks: yTicksDenB, leg: [13, 14.5] },
    pr:   { top: 1073, h: 116, yMin: -0.01, yMax: 0.08, yTicks: yTicksPrB } }
];

// inset boxes (plot area) and axes
const insets = [
  { left: 148, top: 518, w: 65, h: 64, xMin: 10, xMax: 30, xTicks: [10, 15, 20, 25, 30], yMin: -0.00326, yMax: 0.00223 },
  { left: 455, top: 522, w: 76, h: 60, xMin: 5, xMax: 30, xTicks: [5, 10, 15, 20, 25, 30], yMin: -0.00363, yMax: 0.00199 },
  { left: 754, top: 519, w: 98, h: 68, xMin: 5, xMax: 30, xTicks: [5, 10, 15, 20, 25, 30], yMin: -0.0045, yMax: 0.00104 },
  { left: 125, top: 1079, w: 88, h: 76, xMin: 5, xMax: 30, xTicks: [5, 10, 15, 20, 25, 30], yMin: -0.00464, yMax: 0.00158 },
  { left: 440, top: 1082, w: 90, h: 70, xMin: 5, xMax: 25, xTicks: [5, 10, 15, 20, 25], yMin: -0.00439, yMax: 0.00144 },
  { left: 763, top: 1079, w: 89, h: 76, xMin: 5, xMax: 20, xTicks: [5, 10, 15, 20], yMin: -0.00455, yMax: 0.00155 }
];

groups.forEach((g, gi) => {
  colLeft.forEach((left, ci) => {
    const idx = gi * 3 + ci;
    const T = temps[idx];
    const right = left + colW;

    // spinor
    const s = g.spin;
    makeChart({ left, top: s.top, w: colW, h: s.h }, mainPad, spinorCurves[idx], spinStyles,
      { xMin: 0, xMax: s.xMax, xTicks: s.xTicks, yMin: s.yMin, yMax: s.yMax, yTicks: s.yTicks, dec: 2,
        font: 10, xPad: 5, yPad: 3, major: 4, minorLen: 2, xMinor: s.xMinor, yMinor: 0.01 });
    title(left, s.top, 'Spinor: {1,2,3}-shell', 19, T);
    legend(right, s.top, spinLegend, -55, s.leg[0], s.leg[1]);

    // number density
    const d = g.den;
    makeChart({ left, top: d.top, w: colW, h: d.h }, mainPad, densityCurves[idx], fourStyles,
      { xMin: 0, xMax: d.xMax, xTicks: d.xTicks, yMin: d.yMin, yMax: d.yMax, yTicks: d.yTicks, dec: 1,
        font: 10, xPad: 5, yPad: 3, major: 4, minorLen: 2, xMinor: d.xMinor, yMinor: 0.25 });
    title(left, d.top, 'Number density: {1,2,3}-shell', 10, T);
    legend(right, d.top, denLegend, -49, d.leg[0], d.leg[1]);

    // pressure
    const p = g.pr;
    makeChart({ left, top: p.top, w: colW, h: 116 }, mainPad, pressureCurves[idx], fourStyles,
      { xMin: 0, xMax: 30, xTicks: xTicks30, yMin: p.yMin, yMax: p.yMax, yTicks: p.yTicks, dec: 2,
        font: 10, xPad: 5, yPad: 3, major: 4, minorLen: 2, xMinor: 2.5, yMinor: 0.01 });
    title(left, p.top, 'Pressure: {1,2,3}-shell', 23, T);
    legend(right, p.top, prLegend, -59, 21, 19.5);
    addHTML(`<div class="xlab" style="left:${left + colW / 2 - 4}px;top:${p.top + 116 + 19}px;">r</div>`);

    // inset
    const b = insets[idx];
    makeChart({ left: b.left, top: b.top, w: b.w, h: b.h }, insetPad, insetCurves[idx], insetStyles,
      { xMin: b.xMin, xMax: b.xMax, xTicks: b.xTicks, yMin: b.yMin, yMax: b.yMax, yTicks: insetYTicks, dec: 3,
        font: 6.5, xPad: 2, yPad: 3, major: 3, minorLen: 0 });
  });
});
</script>
</body>
</html>
